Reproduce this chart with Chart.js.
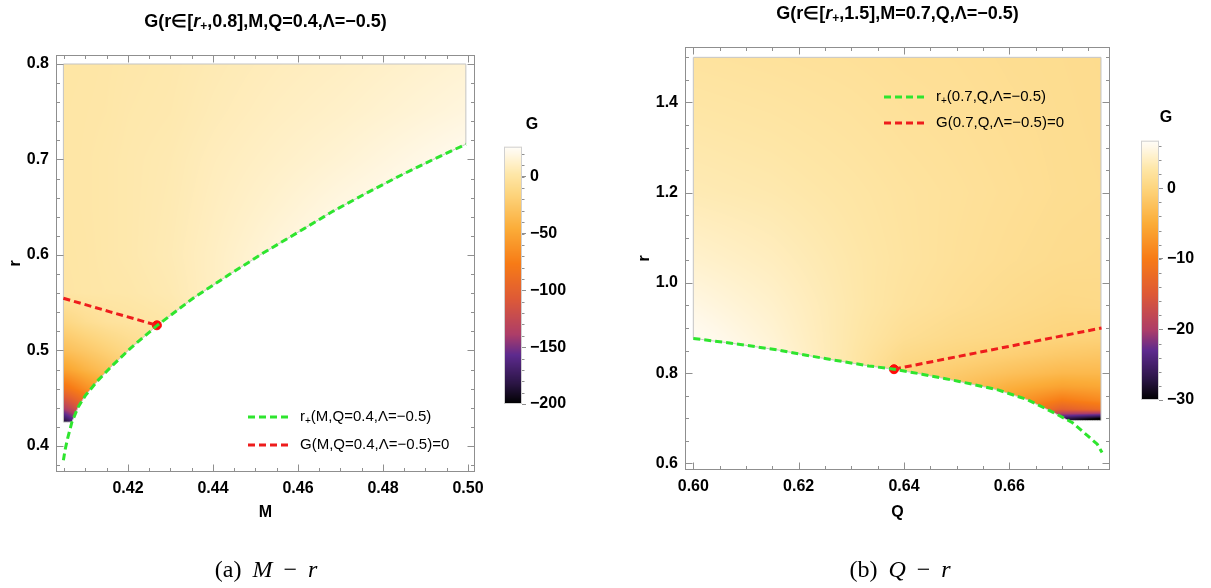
<!DOCTYPE html>
<html>
<head>
<meta charset="utf-8">
<script src="https://cdn.jsdelivr.net/npm/chart.js@4.4.1/dist/chart.umd.min.js"></script>
<style>
  body { margin: 0; background: #fff; width: 1211px; height: 588px; overflow: hidden; position: relative; }
  canvas { position: absolute; }
  .cap { position: absolute; top: 569px; transform: translate(-50%, -50%); white-space: nowrap;
         font-family: "Liberation Serif", "DejaVu Serif", serif; font-size: 24px; word-spacing: 5px; }
</style>
</head>
<body>
<canvas id="chartA" width="600" height="588" style="left:0;top:0"></canvas>
<canvas id="barA" width="90" height="320" style="left:490px;top:100px"></canvas>
<canvas id="chartB" width="520" height="588" style="left:620px;top:0"></canvas>
<canvas id="barB" width="86" height="320" style="left:1125px;top:95px"></canvas>
<div class="cap" style="left:266px">(a) <i>M</i> − <i>r</i></div>
<div class="cap" style="left:900px">(b) <i>Q</i> − <i>r</i></div>
<script>
// ---------- panel (a): M - r ----------
const aXTicks = [0.42, 0.44, 0.46, 0.48, 0.50];
const aXLabels = ['0.42', '0.44', '0.46', '0.48', '0.50'];
const aYTicks = [0.4, 0.5, 0.6, 0.7, 0.8];
const aYLabels = ['0.4', '0.5', '0.6', '0.7', '0.8'];
const aBarTicks = [-200, -150, -100, -50, 0];
const aBarLabels = ['−200', '−150', '−100', '−50', '0'];
const aBarRange = [-200, 26.4];

// horizon r+(M)
const aCurveM = [0.4048, 0.4052, 0.4058, 0.4068, 0.4083, 0.4100, 0.4130, 0.4165, 0.4205, 0.4268,
                 0.4354, 0.4440, 0.4518, 0.4597, 0.4683, 0.4762, 0.4840, 0.4918, 0.4995];
const aCurveR = [0.385, 0.396, 0.408, 0.425, 0.441, 0.453, 0.469, 0.485, 0.502, 0.526,
                 0.555, 0.580, 0.602, 0.623, 0.646, 0.665, 0.683, 0.700, 0.716];
// G = 0 line
const aZeroM = [0.4048, 0.4158, 0.4268];
const aZeroR = [0.5547, 0.5405, 0.5264];
const aPointM = [0.4268];
const aPointR = [0.5264];

// G(M, r)
const aGridM = [0.405, 0.410, 0.415, 0.420, 0.430, 0.440, 0.455, 0.470, 0.485, 0.500];
const aGridR = [0.42, 0.44, 0.46, 0.48, 0.50, 0.53, 0.56, 0.60, 0.65, 0.70, 0.75, 0.80];
const aG = [
  [-205, -150, -100, -60, -20,  5, 20,   25, 25,   25],
  [-135, -100,  -70, -45, -15,  6, 20,   25, 25,   25],
  [ -85,  -65,  -48, -32, -10,  7, 21,   25, 25,   25],
  [ -52,  -40,  -30, -20,  -6,  8, 21,   25, 25,   25],
  [ -32,  -25,  -18, -11,  -2,  9, 21,   25, 25,   25],
  [ -13,   -7,   -3,  -1,   2, 10, 21,   25, 25,   25],
  [ 0.5,  1.5,    2, 2.5,   5, 10, 19,   25, 25,   25],
  [   1,  1.5,  2.5, 3.5,   6, 10, 17,   23, 26,   26],
  [ 1.2,  1.8,  2.5, 3.5,   5.5, 9, 14,   19, 23,   25],
  [ 1.2,  1.8,  2.5, 3.5,   5, 8, 11.5, 15, 19,   23],
  [ 1.2,  1.6,    2, 3,     4, 6.5, 9.5, 12, 15,  18],
  [   1,  1.3,  1.8, 2.5,   3.5, 5.5, 8,  10, 12.5, 15]
];
const aRegion = { xMin: 0.4048, xMax: 0.4995, yMax: 0.8, yCut: 0.425 };

// ---------- panel (b): Q - r ----------
const bXTicks = [0.60, 0.62, 0.64, 0.66];
const bXLabels = ['0.60', '0.62', '0.64', '0.66'];
const bYTicks = [0.6, 0.8, 1.0, 1.2, 1.4];
const bYLabels = ['0.6', '0.8', '1.0', '1.2', '1.4'];
const bBarTicks = [-30, -20, -10, 0];
const bBarLabels = ['−30', '−20', '−10', '0'];
const bBarRange = [-30, 6.74];

const bCurveQ = [0.600, 0.6075, 0.6161, 0.6247, 0.6333, 0.6381, 0.6434, 0.6505, 0.6577, 0.6634,
                 0.6685, 0.6720, 0.6749, 0.6767, 0.6776];
const bCurveR = [0.877, 0.866, 0.8513, 0.833, 0.8161, 0.8088, 0.7978, 0.7817, 0.7634, 0.7414,
                 0.7121, 0.6901, 0.6608, 0.6425, 0.6242];
const bZeroQ = [0.6381, 0.6578, 0.6775];
const bZeroR = [0.8088, 0.8544, 0.900];
const bPointQ = [0.6381];
const bPointR = [0.8088];

const bGridQ = [0.600, 0.615, 0.630, 0.640, 0.650, 0.660, 0.670, 0.6775];
const bGridR = [0.66, 0.70, 0.72, 0.74, 0.77, 0.80, 0.84, 0.88, 0.95, 1.05, 1.20, 1.50];
const bG = [
  [  8,   6,   3,   0,   -4,  -12, -35, -50],
  [  8,   6,   3,   0, -3.5,   -9, -26, -30],
  [  8,   6,   3,   0,   -3, -7.5, -14, -12],
  [7.8, 5.8,   3,   0, -2.7, -6.5, -10, -8.5],
  [7.5, 5.7, 2.9,   0, -2.3, -4.5,  -6, -5.5],
  [7.2, 5.5, 2.8,   0, -1.3, -2.5, -3.5, -3.5],
  [6.8, 5.2, 2.8, 0.8,    0, -0.7, -1.5, -1.8],
  [6.4, 4.9, 2.9, 1.5,  0.8,  0.4, -0.1, -0.3],
  [5.6, 4.5, 3.0, 2.1,  1.5,  1.0,  0.6,  0.7],
  [4.6, 3.9, 2.9, 2.3,  1.8,  1.4,  1.1,  1.0],
  [3.4, 3.1, 2.6, 2.2,  1.9,  1.6,  1.3,  1.2],
  [2.2, 2.0, 1.8, 1.6,  1.5,  1.3,  1.2,  1.1]
];
const bRegion = { xMin: 0.600, xMax: 0.6774, yMax: 1.5, yCut: 0.695 };

// ---------- styles ----------
const FONT = '"Liberation Sans", Arial, Helvetica, sans-serif';
const TICK_FONT = { family: FONT, size: 16, weight: 'bold' };
const FRAME = '#8f8f8f';
const GREEN = '#2ee52e';
const RED = '#ee1c1c';
// sunset-like colour scheme, low -> high
const SUNSET = [
  [0, [0, 0, 0]], [0.08, [43, 21, 69]], [0.19, [93, 42, 142]], [0.27, [173, 61, 104]],
  [0.41, [222, 90, 54]], [0.545, [247, 123, 22]], [0.68, [251, 172, 56]],
  [0.817, [253, 213, 126]], [0.89, [254, 230, 166]], [0.94, [255, 241, 204]],
  [0.975, [255, 248, 232]], [1, [255, 253, 248]]
];

function colorAt(range, g) {
  let t = (g - range[0]) / (range[1] - range[0]);
  t = Math.max(0, Math.min(1, t));
  for (let i = 1; i < SUNSET.length; i++) {
    if (t <= SUNSET[i][0]) {
      const [t0, c0] = SUNSET[i - 1], [t1, c1] = SUNSET[i];
      const f = (t - t0) / (t1 - t0);
      return c0.map((c, k) => Math.round(c + (c1[k] - c) * f));
    }
  }
  return SUNSET[SUNSET.length - 1][1];
}

function findCell(arr, v) {
  if (v <= arr[0]) return [0, 0];
  if (v >= arr[arr.length - 1]) return [arr.length - 2, 1];
  let i = 0;
  while (arr[i + 1] < v) i++;
  return [i, (v - arr[i]) / (arr[i + 1] - arr[i])];
}

function bilinear(xs, ys, grid, x, y) {
  const [i, fx] = findCell(xs, x);
  const [j, fy] = findCell(ys, y);
  const a = grid[j][i] * (1 - fx) + grid[j][i + 1] * fx;
  const b = grid[j + 1][i] * (1 - fx) + grid[j + 1][i + 1] * fx;
  return a * (1 - fy) + b * fy;
}

function curveAt(xs, ys, x) {
  const [i, f] = findCell(xs, x);
  return ys[i] + (ys[i + 1] - ys[i]) * f;
}

function steps(a, b, s) {
  const out = [];
  for (let v = a; v <= b + 1e-9; v += s) out.push(+v.toFixed(5));
  return out;
}

function rich(ctx, parts, x, y, align) {
  let total = 0;
  parts.forEach(p => { ctx.font = p.f; total += ctx.measureText(p.t).width; });
  let cx = align === 'center' ? x - total / 2 : x;
  ctx.textAlign = 'left';
  ctx.textBaseline = 'middle';
  parts.forEach(p => {
    ctx.font = p.f;
    ctx.fillText(p.t, cx, y + (p.dy || 0));
    cx += ctx.measureText(p.t).width;
  });
}

// density plot, drawn pixel by pixel through the chart's scales
function heatPlugin(p) {
  return {
    id: 'heat',
    beforeDatasetsDraw(chart) {
      const { ctx, chartArea: a, scales: { x, y } } = chart;
      const L = Math.round(a.left), T = Math.round(a.top);
      const w = Math.round(a.right) - L, h = Math.round(a.bottom) - T;
      const off = document.createElement('canvas');
      off.width = w; off.height = h;
      const octx = off.getContext('2d');
      const img = octx.createImageData(w, h);
      const R = p.region;
      const inside = (m, r) => m >= R.xMin && m <= R.xMax && r <= R.yMax && r >= R.yCut &&
        r >= curveAt(p.cx, p.cy, m);
      const sub = [0.25, 0.75];
      for (let j = 0; j < h; j++) {
        for (let i = 0; i < w; i++) {
          let n = 0;
          for (const sy of sub) for (const sx of sub) {
            if (inside(x.getValueForPixel(L + i + sx), y.getValueForPixel(T + j + sy))) n++;
          }
          if (!n) continue;
          const m = Math.min(R.xMax, Math.max(R.xMin, x.getValueForPixel(L + i + 0.5)));
          const r = Math.min(R.yMax, Math.max(R.yCut, y.getValueForPixel(T + j + 0.5)));
          const c = colorAt(p.range, bilinear(p.gx, p.gy, p.g, m, r));
          const k = (j * w + i) * 4;
          img.data[k] = c[0]; img.data[k + 1] = c[1]; img.data[k + 2] = c[2];
          img.data[k + 3] = Math.round(255 * n / 4);
        }
      }
      octx.putImageData(img, 0, 0);
      ctx.drawImage(off, L, T);

      // thin outline of the plotted region
      ctx.save();
      ctx.strokeStyle = '#c4c4c4';
      ctx.lineWidth = 1;
      ctx.beginPath();
      ctx.moveTo(x.getPixelForValue(R.xMin), y.getPixelForValue(R.yMax));
      ctx.lineTo(x.getPixelForValue(R.xMax), y.getPixelForValue(R.yMax));
      const N = 240;
      for (let s = 0; s <= N; s++) {
        const m = R.xMax - (R.xMax - R.xMin) * s / N;
        const r = Math.max(R.yCut, curveAt(p.cx, p.cy, m));
        ctx.lineTo(x.getPixelForValue(m), y.getPixelForValue(r));
      }
      ctx.closePath();
      ctx.stroke();
      ctx.restore();
    }
  };
}

// frame with inward major/minor ticks on all four sides
function framePlugin(p) {
  return {
    id: 'frame',
    afterDatasetsDraw(chart) {
      const { ctx, chartArea: a, scales: { x, y } } = chart;
      ctx.save();
      ctx.strokeStyle = FRAME;
      ctx.lineWidth = 1;
      const l = Math.round(a.left) + 0.5, r = Math.round(a.right) - 0.5;
      const t = Math.round(a.top) + 0.5, b = Math.round(a.bottom) - 0.5;
      ctx.strokeRect(l, t, r - l, b - t);
      ctx.beginPath();
      const tick = (vals, len) => {
        vals.forEach(v => {
          const px = Math.round(x.getPixelForValue(v)) + 0.5;
          if (px > l && px < r) {
            ctx.moveTo(px, b); ctx.lineTo(px, b - len);
            ctx.moveTo(px, t); ctx.lineTo(px, t + len);
          }
        });
      };
      const tickY = (vals, len) => {
        vals.forEach(v => {
          const py = Math.round(y.getPixelForValue(v)) + 0.5;
          if (py > t && py < b) {
            ctx.moveTo(l, py); ctx.lineTo(l + len, py);
            ctx.moveTo(r, py); ctx.lineTo(r - len, py);
          }
        });
      };
      tick(p.xMinor, 3.5); tickY(p.yMinor, 3.5);
      tick(p.xTicks, 7); tickY(p.yTicks, 7);
      ctx.stroke();
      ctx.restore();
    }
  };
}

// title, axis labels, legend
function textPlugin(p) {
  return {
    id: 'texts',
    afterDraw(chart) {
      const { ctx, chartArea: a } = chart;
      ctx.save();
      ctx.fillStyle = '#000';
      const cx = (a.left + a.right) / 2;
      rich(ctx, p.title, cx, p.titleY, 'center');
      ctx.font = 'bold 16px ' + FONT;
      ctx.textAlign = 'center';
      ctx.textBaseline = 'middle';
      ctx.fillText(p.xTitle, cx, p.xTitleY);
      ctx.save();
      ctx.translate(a.left - 40, (a.top + a.bottom) / 2);
      ctx.rotate(-Math.PI / 2);
      ctx.fillText('r', 0, 0);
      ctx.restore();
      p.legend.forEach(e => {
        ctx.save();
        ctx.strokeStyle = e.color;
        ctx.lineWidth = 3;
        ctx.setLineDash([7, 4]);
        ctx.beginPath();
        ctx.moveTo(p.legendX, e.y);
        ctx.lineTo(p.legendX + 42, e.y);
        ctx.stroke();
        ctx.restore();
        rich(ctx, e.parts, p.legendX + 52, e.y, 'left');
      });
      ctx.restore();
    }
  };
}

function legendParts(first, rest) {
  const f = '15px ' + FONT;
  return first ? [{ t: 'r', f: f }, { t: '+', f: '10px ' + FONT, dy: 4 }, { t: rest, f: f }]
               : [{ t: rest, f: f }];
}

function titleParts(bracket, rest) {
  const f = 'bold 18px ' + FONT;
  return [{ t: 'G(r∈[', f: f }, { t: 'r', f: 'italic bold 18px ' + FONT },
          { t: '+', f: 'bold 12px ' + FONT, dy: 5 }, { t: bracket + rest, f: f }];
}

function pts(xs, ys) { return xs.map((v, i) => ({ x: v, y: ys[i] })); }

function mainChart(id, o) {
  const H = 588;
  new Chart(document.getElementById(id), {
    type: 'line',
    data: {
      datasets: [
        { data: pts(o.cx, o.cy), borderColor: GREEN, borderWidth: 3, borderDash: [7, 4],
          pointRadius: 0, tension: 0, fill: false },
        { data: pts(o.zx, o.zy), borderColor: RED, borderWidth: 3, borderDash: [7, 4],
          pointRadius: 0, tension: 0, fill: false },
        { data: pts(o.px, o.py), showLine: false, pointRadius: 4.5, pointBackgroundColor: '#ff0a0a',
          pointBorderWidth: 1, pointBorderColor: '#ff0a0a', borderColor: '#ff0a0a' }
      ]
    },
    options: {
      responsive: false,
      animation: false,
      devicePixelRatio: 1,
      layout: { padding: { left: 0, top: o.area.top, right: o.canvasW - o.area.right, bottom: 0 } },
      plugins: { legend: { display: false }, tooltip: { enabled: false } },
      scales: {
        x: {
          type: 'linear', min: o.xRange[0], max: o.xRange[1],
          afterBuildTicks: s => { s.ticks = o.xTicks.map(v => ({ value: v })); },
          afterFit: s => { s.height = H - o.area.bottom; },
          grid: { display: false, drawTicks: false }, border: { display: false },
          ticks: { callback: (v, i) => o.xLabels[i], font: TICK_FONT, color: '#000',
                   padding: 7, autoSkip: false, maxRotation: 0 }
        },
        y: {
          type: 'linear', min: o.yRange[0], max: o.yRange[1],
          afterBuildTicks: s => { s.ticks = o.yTicks.map(v => ({ value: v })); },
          afterFit: s => { s.width = o.area.left; },
          grid: { display: false, drawTicks: false }, border: { display: false },
          ticks: { callback: (v, i) => o.yLabels[i], font: TICK_FONT, color: '#000',
                   padding: 7, autoSkip: false }
        }
      }
    },
    plugins: [
      heatPlugin({ region: o.region, cx: o.cx, cy: o.cy, gx: o.gx, gy: o.gy, g: o.g, range: o.range }),
      framePlugin({ xTicks: o.xTicks, yTicks: o.yTicks, xMinor: o.xMinor, yMinor: o.yMinor }),
      textPlugin(o.text)
    ]
  });
}

function colorBar(id, o) {
  new Chart(document.getElementById(id), {
    type: 'line',
    data: { datasets: [] },
    options: {
      responsive: false,
      animation: false,
      devicePixelRatio: 1,
      layout: { padding: { left: o.area.left, top: o.area.top, right: 0, bottom: o.canvasH - o.area.bottom } },
      plugins: { legend: { display: false }, tooltip: { enabled: false } },
      scales: {
        x: { display: false },
        y: {
          position: 'right', min: o.range[0], max: o.range[1],
          afterBuildTicks: s => { s.ticks = o.ticks.map(v => ({ value: v })); },
          afterFit: s => { s.width = o.canvasW - o.area.right; },
          grid: { drawOnChartArea: false, drawTicks: true, tickLength: 4, color: FRAME },
          border: { display: false },
          ticks: { callback: (v, i) => o.labels[i], font: TICK_FONT, color: '#000', padding: 4, autoSkip: false }
        }
      }
    },
    plugins: [{
      id: 'bar',
      beforeDraw(chart) {
        const { ctx, chartArea: a, scales: { y } } = chart;
        ctx.save();
        for (let py = Math.floor(a.top); py < Math.ceil(a.bottom); py++) {
          const c = colorAt(o.range, y.getValueForPixel(py + 0.5));
          ctx.fillStyle = `rgb(${c[0]},${c[1]},${c[2]})`;
          ctx.fillRect(a.left, py, a.right - a.left, 1);
        }
        ctx.strokeStyle = '#d0d0d0';
        ctx.lineWidth = 1;
        ctx.strokeRect(a.left + 0.5, a.top + 0.5, a.right - a.left - 1, a.bottom - a.top - 1);
        ctx.strokeStyle = FRAME;
        ctx.beginPath();
        o.minor.forEach(v => {
          const py = Math.round(y.getPixelForValue(v)) + 0.5;
          ctx.moveTo(a.right, py); ctx.lineTo(a.right + 2.5, py);
        });
        ctx.stroke();
        ctx.fillStyle = '#000';
        ctx.font = 'bold 16px ' + FONT;
        ctx.textAlign = 'center';
        ctx.textBaseline = 'middle';
        ctx.fillText('G', o.gLabel[0], o.gLabel[1]);
        ctx.restore();
      }
    }]
  });
}

mainChart('chartA', {
  canvasW: 600,
  area: { left: 56, right: 475, top: 55, bottom: 472 },
  xRange: [0.40306, 0.50165], yRange: [0.37277, 0.80942],
  xTicks: aXTicks, xLabels: aXLabels, yTicks: aYTicks, yLabels: aYLabels,
  xMinor: steps(0.405, 0.50, 0.005), yMinor: steps(0.38, 0.80, 0.02),
  cx: aCurveM, cy: aCurveR, zx: aZeroM, zy: aZeroR, px: aPointM, py: aPointR,
  gx: aGridM, gy: aGridR, g: aG, range: aBarRange, region: aRegion,
  text: {
    title: titleParts(',0.8]', ',M,Q=0.4,Λ=−0.5)'), titleY: 22,
    xTitle: 'M', xTitleY: 513,
    legendX: 248,
    legend: [
      { color: GREEN, y: 417, parts: legendParts(true, '(M,Q=0.4,Λ=−0.5)') },
      { color: RED, y: 445, parts: legendParts(false, 'G(M,Q=0.4,Λ=−0.5)=0') }
    ]
  }
});

mainChart('chartB', {
  canvasW: 520,
  area: { left: 65, right: 490, top: 47, bottom: 470 },
  xRange: [0.59842, 0.67911], yRange: [0.5854, 1.5229],
  xTicks: bXTicks, xLabels: bXLabels, yTicks: bYTicks, yLabels: bYLabels,
  xMinor: steps(0.600, 0.675, 0.005), yMinor: steps(0.60, 1.50, 0.05),
  cx: bCurveQ, cy: bCurveR, zx: bZeroQ, zy: bZeroR, px: bPointQ, py: bPointR,
  gx: bGridQ, gy: bGridR, g: bG, range: bBarRange, region: bRegion,
  text: {
    title: titleParts(',1.5]', ',M=0.7,Q,Λ=−0.5)'), titleY: 14,
    xTitle: 'Q', xTitleY: 513,
    legendX: 264,
    legend: [
      { color: GREEN, y: 97, parts: legendParts(true, '(0.7,Q,Λ=−0.5)') },
      { color: RED, y: 123, parts: legendParts(false, 'G(0.7,Q,Λ=−0.5)=0') }
    ]
  }
});

colorBar('barA', {
  canvasW: 90, canvasH: 320,
  area: { left: 14, right: 32, top: 46.7, bottom: 304 },
  range: aBarRange, ticks: aBarTicks, labels: aBarLabels,
  minor: steps(-200, 20, 10), gLabel: [42, 25]
});

colorBar('barB', {
  canvasW: 86, canvasH: 320,
  area: { left: 16, right: 34, top: 45.7, bottom: 305 },
  range: bBarRange, ticks: bBarTicks, labels: bBarLabels,
  minor: steps(-30, 6, 2), gLabel: [41, 23]
});
</script>
</body>
</html>
